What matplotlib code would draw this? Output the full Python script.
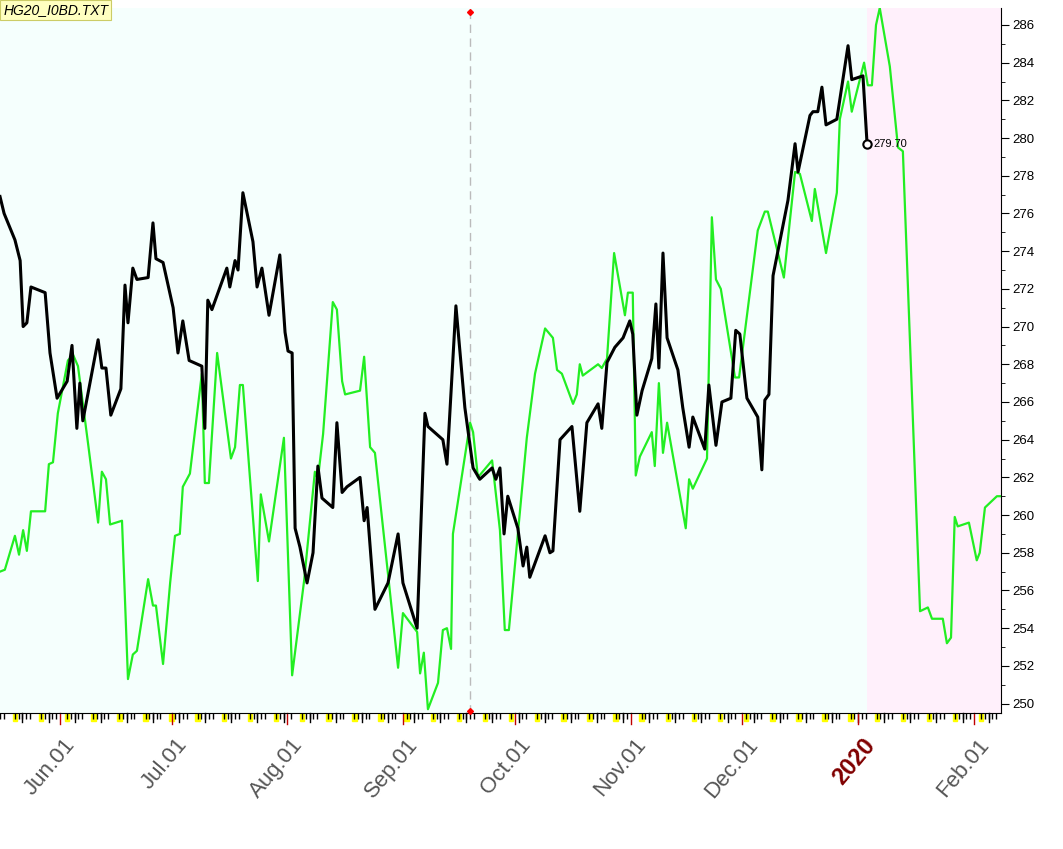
import matplotlib
matplotlib.use("Agg")
import matplotlib.pyplot as plt
import numpy as np
import datetime as dt

plt.rcParams['font.family'] = ['Liberation Sans', 'DejaVu Sans']

# days since 2019-05-16
black_days = [0.0,1.1,4.0,5.4,6.2,7.2,8.3,12.1,13.4,15.3,18.0,19.3,20.6,21.4,22.2,26.3,27.3,28.4,29.7,32.4,33.5,34.3,35.6,36.7,39.7,41.0,41.8,43.7,46.4,47.7,49.0,50.7,54.1,54.9,55.7,56.8,60.8,61.6,63.0,63.8,65.1,67.8,68.9,70.2,72.1,75.0,76.4,77.2,78.3,79.1,80.4,82.3,83.9,85.2,86.3,89.2,90.3,91.7,93.0,96.5,97.6,98.4,100.5,104.0,106.7,108.0,111.8,113.9,114.7,118.7,119.8,122.2,124.6,126.8,128.6,131.9,132.9,134.0,135.1,136.1,138.8,140.2,141.2,142.0,146.1,147.4,148.2,150.1,153.3,155.4,157.3,160.3,161.3,162.7,164.8,167.0,168.0,168.8,169.6,170.7,172.1,174.7,175.8,176.6,177.7,178.8,181.7,183.0,184.7,185.7,188.9,190.0,191.9,193.5,195.9,197.2,198.3,200.2,203.1,204.2,205.0,206.1,207.2,211.2,213.1,213.9,217.1,217.9,219.2,220.3,221.4,224.3,227.3,228.3,231.3,232.4]
black_vals = [276.9,276.0,274.6,273.5,270.0,270.2,272.1,271.8,268.6,266.2,267.1,269.0,264.6,267.0,265.0,269.3,267.8,267.8,265.3,266.7,272.2,270.2,273.1,272.5,272.6,275.5,273.6,273.4,271.0,268.6,270.3,268.2,267.9,264.6,271.4,270.9,273.1,272.1,273.5,273.0,277.1,274.5,272.1,273.1,270.6,273.8,269.7,268.7,268.6,259.3,258.3,256.4,258.0,262.6,260.9,260.4,264.9,261.2,261.5,262.0,259.7,260.4,255.0,256.4,259.0,256.4,254.0,265.4,264.7,264.0,262.7,271.1,265.7,262.5,261.9,262.5,261.9,262.5,259.0,261.0,259.3,257.3,258.3,256.7,258.9,258.0,258.1,264.0,264.7,260.2,264.9,265.9,264.6,268.1,268.9,269.4,269.9,270.3,269.6,265.3,266.6,268.3,271.2,267.8,273.9,269.4,267.7,265.7,263.6,265.2,263.5,266.9,263.7,266.0,266.2,269.8,269.6,266.2,265.2,262.4,266.1,266.4,272.7,276.7,279.7,278.2,281.2,281.4,281.4,282.7,280.7,281.0,284.9,283.1,283.3,279.7]

green_days = [0,1.3,4.0,5.1,6.2,7.2,8.3,12.1,13.1,14.2,15.5,18.2,19.6,20.9,23.6,26.3,27.3,28.4,29.5,32.7,34.3,35.6,36.7,39.7,41.0,41.8,43.7,45.6,46.9,48.2,49.0,50.9,54.1,54.9,56.0,58.2,61.9,63.0,64.3,65.1,69.1,69.9,72.1,76.1,78.3,81.5,84.4,85.2,86.6,89.2,90.3,91.7,92.5,96.5,97.6,99.2,100.5,106.7,108.0,111.8,112.6,113.6,114.7,117.4,118.7,119.8,120.9,121.4,126.0,126.8,128.1,131.9,134.0,135.3,136.4,141.2,143.4,146.1,148.2,149.3,150.6,153.6,154.6,155.4,156.2,160.3,161.3,162.7,164.6,167.5,168.3,169.6,170.4,171.5,174.7,175.5,176.6,177.7,178.8,183.8,184.7,185.7,189.5,190.8,191.9,193.2,197.0,198.1,203.1,205.0,205.8,210.1,213.1,214.4,217.6,218.4,221.4,224.3,225.1,227.3,228.3,231.6,232.6,233.7,234.8,235.8,238.5,240.7,242.0,246.6,248.7,249.8,252.7,253.8,254.9,255.9,256.7,259.7,261.8,262.6,264.0,267.2,268.3]
green_vals = [257.0,257.1,258.9,257.9,259.2,258.1,260.2,260.2,262.7,262.8,265.4,268.2,268.5,267.9,263.8,259.6,262.3,261.9,259.5,259.7,251.3,252.6,252.8,256.6,255.2,255.2,252.1,256.4,258.9,259.0,261.5,262.2,267.5,261.7,261.7,268.6,263.0,263.6,266.9,266.9,256.5,261.1,258.6,264.1,251.5,256.5,262.3,261.9,264.3,271.3,270.9,267.1,266.4,266.6,268.4,263.6,263.3,251.9,254.8,253.8,251.6,252.7,249.7,251.1,253.9,254.0,252.9,259.0,264.9,264.4,262.0,262.9,259.2,253.9,253.9,264.1,267.5,269.9,269.4,267.7,267.5,265.9,266.4,268.0,267.4,268.0,267.8,268.3,273.9,270.6,271.8,271.8,262.1,263.1,264.4,262.6,267.0,263.3,264.9,259.3,261.9,261.4,263.0,275.8,272.5,272.0,267.3,267.3,275.1,276.1,276.1,272.6,278.2,278.1,275.6,277.3,273.9,277.1,281.0,283.0,281.4,284.0,282.8,282.8,286.0,286.9,283.8,279.5,279.3,254.9,255.1,254.5,254.5,253.2,253.5,259.9,259.4,259.6,257.6,258.0,260.4,261.0,261.0]

month_labels = ["Jun.01","Jul.01","Aug.01","Sep.01","Oct.01","Nov.01","Dec.01","2020","Feb.01"]
month_dates = ["2019-06-01","2019-07-01","2019-08-01","2019-09-01","2019-10-01","2019-11-01","2019-12-01","2020-01-01","2020-02-01"]
marker_date = "2019-09-19"
last_label = "279.70"
title = "HG20_I0BD.TXT"

start = dt.date(2019,5,16)
def dd(s):
    return (dt.date.fromisoformat(s)-start).days

fig = plt.figure(figsize=(10.63,8.49), dpi=100)
fig.patch.set_facecolor("white")
ax = fig.add_axes([0, 1-713/849, 1001/1063, (713-8)/849])
ax.set_facecolor("#f5fffd")
xmax = 268.3
ax.set_xlim(0, xmax)
ax.set_ylim(249.5, 286.9)
ax.axvspan(black_days[-1], xmax, color="#fff0fb", zorder=0, lw=0)

ax.plot(green_days, green_vals, color="#22ee22", lw=1.6, zorder=2)
ax.plot(black_days, black_vals, color="black", lw=2.2, zorder=3)
ax.plot([black_days[-1]],[black_vals[-1]], 'o', mfc="white", mec="black", ms=6, mew=1.5, zorder=4)
ax.text(black_days[-1]+1.6, black_vals[-1], last_label, fontsize=8, va="center", zorder=5)

md = dd(marker_date)
ax.axvline(md, color="#bbbbbb", ls=(0,(6,4)), lw=1, zorder=1)
ax.plot([md],[286.7], marker="D", color="red", ms=3, clip_on=False, zorder=5)
ax.plot([md],[249.6], marker="D", color="red", ms=3, clip_on=False, zorder=5)

for s in ["top","left"]:
    ax.spines[s].set_visible(False)
ax.yaxis.tick_right()
ax.set_yticks(np.arange(250, 287, 2))
ax.set_yticks(np.arange(250, 287, 1), minor=True)
ax.tick_params(axis="y", which="major", length=6, labelsize=9.5, pad=2)
ax.tick_params(axis="y", which="minor", length=3)

# x ticks
ax.set_xticks([dd(s) for s in month_dates])
ax.set_xticklabels([])
ax.tick_params(axis="x", which="major", length=0)
days_all = [start+dt.timedelta(days=i) for i in range(0, int(xmax)+1)]
wk = [(d-start).days for d in days_all if d.weekday()<5]
ax.set_xticks(wk, minor=True)
ax.tick_params(axis="x", which="minor", length=4, color="black", width=1)
trans = ax.get_xaxis_transform()
for d in days_all:
    x = (d-start).days
    if d.weekday()==0:
        ax.add_patch(plt.Rectangle((x-0.6, -0.012), 1.2, 0.01, transform=trans, color="#ffff00", clip_on=False, zorder=1))
    if d.weekday()==2:
        ax.plot([x,x],[0,-0.013], transform=trans, color="black", lw=1, clip_on=False)
for s in month_dates:
    ax.plot([dd(s)]*2, [0,-0.015], transform=trans, color="#c00000", lw=1, clip_on=False)

for lab, s in zip(month_labels, month_dates):
    if lab == "2020":
        ax.text(dd(s)+1, -0.03, lab, transform=trans, rotation=50, ha="right", va="top",
                rotation_mode="anchor", fontsize=17, fontweight="bold", color="#800000")
    else:
        ax.text(dd(s)+1, -0.03, lab, transform=trans, rotation=50, ha="right", va="top",
                rotation_mode="anchor", fontsize=16, color="#555555")

fig.text(0.003, 1-3/849, title, fontsize=10, style="italic", va="top", ha="left",
         bbox=dict(boxstyle="square,pad=0.2", fc="#ffffc0", ec="#cccc66", lw=0.8))

fig.savefig("out.png", dpi=100)
